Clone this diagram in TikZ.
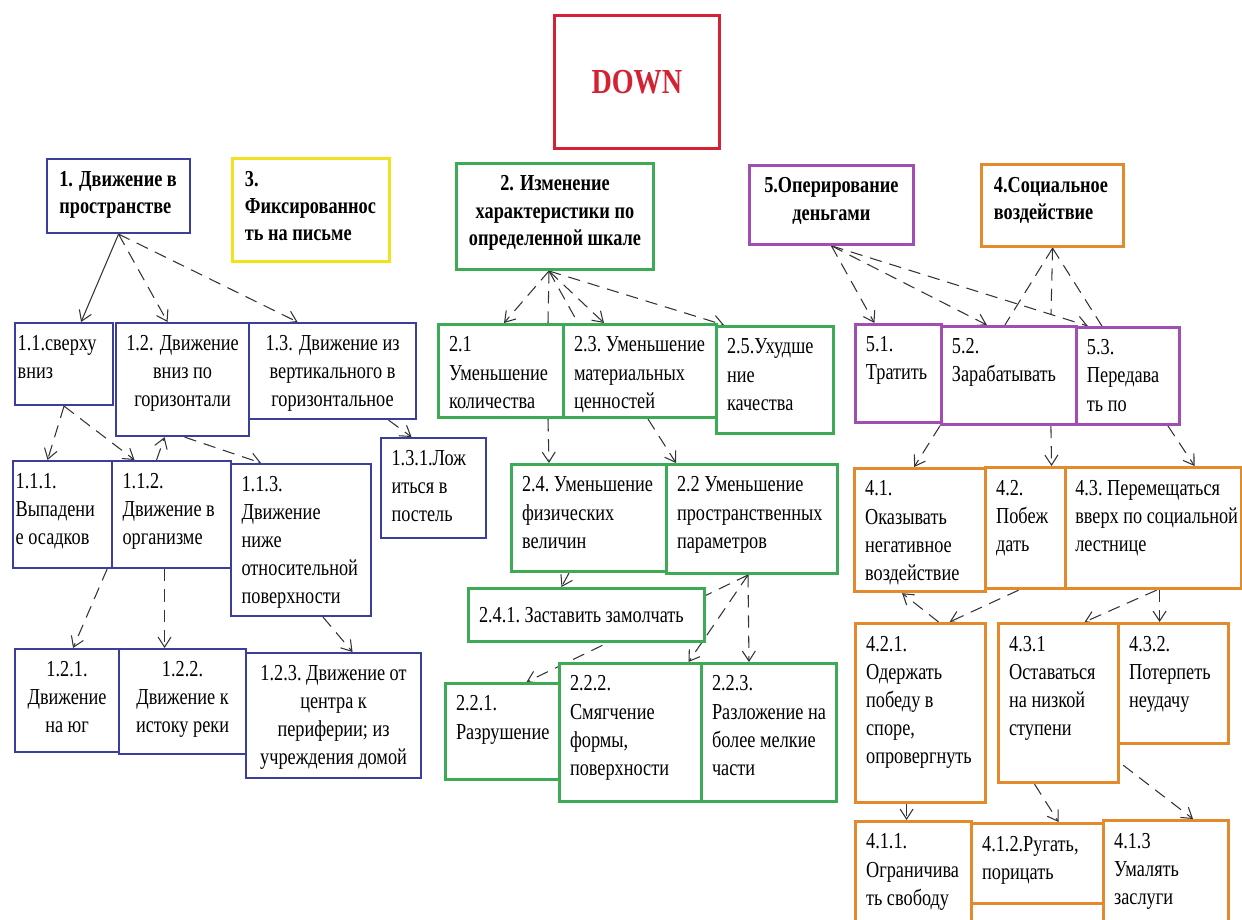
\documentclass[tikz,border=0pt]{standalone}
\usepackage{fontspec}
\setmainfont{Liberation Serif}[FakeStretch=0.8]
\usetikzlibrary{arrows.meta, calc, backgrounds}
\definecolor{myblue}{HTML}{3A3F9E}
\definecolor{mygreen}{HTML}{3DAA55}
\definecolor{myyellow}{HTML}{F2E21E}
\definecolor{mypurple}{HTML}{A04EB4}
\definecolor{myorange}{HTML}{E38B2C}
\definecolor{myred}{HTML}{D42232}
\newlength{\pxu}
\setlength{\pxu}{0.02cm}
\newcommand{\lcell}[4][6pt]{\parbox[c][#3\pxu][t]{#2\pxu}{\vspace*{7pt}\raggedright\leftskip=#1\relax #4\par}}
\newcommand{\ccell}[3]{\parbox[c][#2\pxu][t]{#1\pxu}{\vspace*{7pt}\centering #3\par}}
\tikzset{
	cellbox/.style={
			draw,
			fill=white,
			anchor=north west,
			inner sep=0pt,
			font=\fontsize{13}{16}\selectfont
		},
	headfont/.style={
			font=\fontsize{13}{15.5}\selectfont\bfseries
		},
	bluebox/.style={
			cellbox,
			draw=myblue,
			line width=1.2pt
		},
	greenbox/.style={
			cellbox,
			draw=mygreen,
			line width=1.7pt
		},
	purplebox/.style={
			cellbox,
			draw=mypurple,
			line width=1.6pt
		},
	orangebox/.style={
			cellbox,
			draw=myorange,
			line width=1.8pt
		},
	yellowbox/.style={
			cellbox,
			draw=myyellow,
			line width=1.8pt
		},
	topbox/.style={
			draw=myred,
			line width=1.5pt,
			anchor=north west,
			minimum width=3.3cm,
			minimum height=2.66cm,
			text=myred,
			font=\fontsize{20}{24}\selectfont\bfseries
		},
	conn/.style={
			draw=black!80,
			line width=0.6pt
		},
	dconn/.style={
			conn,
			dash pattern=on 7pt off 4.5pt
		},
	arr/.style={
			-{Straight Barb[length=2mm,width=2.6mm]}
		}
}

\begin{document}
\begin{tikzpicture}[x=0.02cm, y=-0.02cm]
\useasboundingbox (0,0) rectangle (1242,920);
    \node[topbox] (n0) at (553,14) {DOWN};

    \node[bluebox, headfont] (n1) at (46,158) {\lcell[7pt]{143}{74}{1. Движение в\\пространстве}};
    \node[yellowbox, headfont] (n3) at (231,157) {\lcell[7pt]{157}{103}{3.\\Фиксированнос\\ть на письме}};
    \node[greenbox, headfont] (n2) at (455,162) {\ccell{197}{106}{2. Изменение\\характеристики по\\определенной шкале}};
    \node[purplebox, headfont] (n5) at (748,164) {\ccell{164}{79}{5.Оперирование\\деньгами}};
    \node[orangebox, headfont] (n4) at (980,163) {\lcell[7pt]{142}{82}{4.Социальное\\воздействие}};

    \node[bluebox] (n11) at (14,322) {\lcell[1.5pt]{98}{82}{1.1.сверху\\вниз}};
    \node[bluebox] (n12) at (115,322) {\ccell{133}{113}{1.2. Движение\\вниз по\\горизонтали}};
    \node[bluebox] (n13) at (248,322) {\ccell{167}{96}{1.3. Движение из\\вертикального в\\горизонтальное}};
    \node[bluebox] (n111) at (12,460) {\lcell[1.5pt]{99}{107}{1.1.1.\\Выпадени\\е осадков}};
    \node[bluebox] (n112) at (111,460) {\lcell{119}{107}{1.1.2.\\Движение в\\организме}};
    \node[bluebox] (n113) at (230,463) {\lcell{140}{152}{1.1.3.\\Движение\\ниже\\относительной\\поверхности}};
    \node[bluebox] (n131) at (380,437) {\lcell{105}{100}{1.3.1.Лож\\иться в\\постель}};
    \node[bluebox] (n121) at (14,648) {\ccell{104}{103}{1.2.1.\\Движение\\на юг}};
    \node[bluebox] (n122) at (118,648) {\ccell{127}{105}{1.2.2.\\Движение к\\истоку реки}};
    \node[bluebox] (n123) at (245,652) {\ccell{175}{125}{1.2.3.~Движение~от\\центра к\\периферии; из\\учреждения~домой}};

    \node[greenbox] (n21) at (437,323) {\lcell{125}{93}{2.1\\Уменьшение\\количества}};
    \node[greenbox] (n23) at (562,323) {\lcell{153}{93}{2.3.~Уменьшение\\материальных\\ценностей}};
    \node[greenbox] (n25) at (715,325) {\lcell{117}{107}{2.5.Ухудше\\ние\\качества}};
    \node[greenbox] (n24) at (510,463) {\lcell{155}{107}{2.4.~Уменьшение\\физических\\величин}};
    \node[greenbox] (n22) at (665,463) {\lcell{171}{109}{2.2~Уменьшение\\пространственных\\параметров}};
    \node[greenbox] (n241) at (467,587) {\lcell{236}{53}{\vspace*{4pt}2.4.1.~Заставить~замолчать}};
    \node[greenbox] (n221) at (444,682) {\lcell{114}{96}{2.2.1.\\Разрушение}};
    \node[greenbox] (n222) at (558,662) {\lcell{142}{138}{2.2.2.\\Смягчение\\формы,\\поверхности}};
    \node[greenbox] (n223) at (700,662) {\lcell{135}{138}{2.2.3.\\Разложение~на\\более~мелкие\\части}};

    \node[purplebox] (n51) at (854,323) {\lcell{86}{98}{5.1.\\Тратить}};
    \node[purplebox] (n52) at (940,325) {\lcell{135}{98}{5.2.\\Зарабатывать}};
    \node[purplebox] (n53) at (1075,326) {\lcell{103}{97}{5.3.\\Передава\\ть по}};

    \node[orangebox] (n41) at (853,467) {\lcell{131}{123}{4.1.\\Оказывать\\негативное\\воздействие}};
    \node[orangebox] (n42) at (984,466) {\lcell{80}{121}{4.2.\\Побеж\\дать}};
    \node[orangebox] (n43) at (1064,466) {\lcell[5.5pt]{176}{121}{4.3.~Перемещаться\\вверх~по~социальной\\лестнице}};
    \node[orangebox] (n421) at (854,622) {\lcell{130}{179}{4.2.1.\\Одержать\\победу в\\споре,\\опровергнуть}};
    \node[orangebox] (n431) at (997,622) {\lcell{120}{159}{4.3.1\\Оставаться\\на~низкой\\ступени}};
    \node[orangebox] (n432) at (1117,622) {\lcell{110}{120}{4.3.2.\\Потерпеть\\неудачу}};
    \node[orangebox] (n411) at (854,820) {\lcell{116}{104}{4.1.1.\\Ограничива\\ть~свободу}};
    \node[orangebox] (n412) at (970,822) {\lcell{132}{80}{4.1.2.Ругать,\\порицать}};
    \node[orangebox] (n413) at (1102,819) {\lcell{125}{104}{4.1.3\\Умалять\\заслуги}};

    \coordinate (k4) at (1051,314);

\begin{scope}[on background layer]
    \draw[conn, arr] (n1.south) -- ($(n11.north)+(17,0)$);
    \draw[dconn, arr] (n1.south) -- ($(n12.north)+(-15,0)$);
    \draw[dconn, arr] (n1.south) -- ($(n13.north)+(-35,0)$);
    \draw[dconn, arr] (n11.south) -- ($(n111.north)+(-15,0)$);
    \draw[dconn, arr] (n11.south) -- ($(n112.north)+(-37,0)$);
    \draw[dconn, arr] ($(n112.north)+(-15,0)$) -- ($(n12.south)+(-18,0)$);
    \draw[dconn, arr] ($(n12.south)+(2,0)$) -- ($(n113.north)+(-40,0)$);
    \draw[dconn, arr] ($(n111.south east)+(-6,0)$) -- ($(n121.north)+(6,0)$);
    \draw[dconn, arr] ($(n112.south)+(-7,0)$) -- ($(n122.north)+(-18,0)$);
    \draw[dconn, arr] ($(n113.south)+(22,0)$) -- ($(n123.north)+(19,0)$);
    \draw[dconn, arr] ($(n13.south)+(56,0)$) -- ($(n131.north)+(-22,0)$);

    \draw[dconn, arr] ($(n2.south)+(-6,0)$) -- ($(n21.north)+(3,0)$);
    \draw[dconn] ($(n2.south)+(-6,0)$) -- ($(n21.north)+(47,0)$);
    \draw[dconn] ($(n2.south)+(-6,0)$) -- ($(n23.north)+(-62,0)$);
    \draw[dconn, arr] ($(n2.south)+(-6,0)$) -- ($(n23.north)+(-36,0)$);
    \draw[dconn, arr] ($(n2.south)+(-6,0)$) -- ($(n25.north)+(-51,0)$);
    \draw[dconn, arr] ($(n21.south)+(47,0)$) -- ($(n24.north)+(-40,0)$);
    \draw[dconn, arr] ($(n23.south)+(8,0)$) -- ($(n22.north)+(-76,0)$);
    \draw[dconn, arr] ($(n24.south)+(-20,0)$) -- ($(n241.north)+(-25,0)$);
    \draw[dconn, arr] ($(n22.south)+(-4,0)$) -- ($(n221.north)+(24,0)$);
    \draw[dconn, arr] ($(n22.south)+(-4,0)$) -- ($(n222.north)+(58,0)$);
    \draw[dconn, arr] ($(n22.south)+(-4,0)$) -- ($(n223.north)+(-20,0)$);

    \draw[dconn, arr] (n5.south) -- ($(n51.north)+(-24,0)$);
    \draw[dconn, arr] (n5.south) -- ($(n52.north)+(-22,0)$);
    \draw[dconn, arr] (n5.south) -- ($(n53.north)+(-40,0)$);
    \draw[dconn] (n4.south) -- (k4);
    \draw[dconn] (n4.south) -- ($(n52.north)+(-4,0)$);
    \draw[dconn] (n4.south) -- ($(n53.north)+(-26,0)$);
    \draw[dconn, arr] (n52.south west) -- ($(n41.north)+(-6,0)$);
    \draw[dconn, arr] ($(n52.south)+(42,0)$) -- ($(n42.north)+(26,0)$);
    \draw[dconn, arr] ($(n53.south)+(40,0)$) -- ($(n43.north)+(41,0)$);
    \draw[dconn, arr] ($(n421.north)+(18,0)$) -- ($(n41.south)+(-18,0)$);
    \draw[dconn, arr] ($(n42.south)+(-7,0)$) -- ($(n421.north)+(29,0)$);
    \draw[dconn, arr] ($(n43.south)+(3,0)$) -- ($(n431.north)+(26,0)$);
    \draw[dconn, arr] ($(n43.south)+(6,0)$) -- ($(n432.north)+(-14,0)$);
    \draw[dconn, arr] ($(n421.south)+(-14,0)$) -- ($(n411.north)+(-7,0)$);
    \draw[dconn, arr] ($(n431.south)+(-24,0)$) -- ($(n412.north)+(21,0)$);
    \draw[dconn, arr] ($(n431.south east)+(3,-19)$) -- ($(n413.north)+(27,0)$);
\end{scope}
\end{tikzpicture}
\end{document}
